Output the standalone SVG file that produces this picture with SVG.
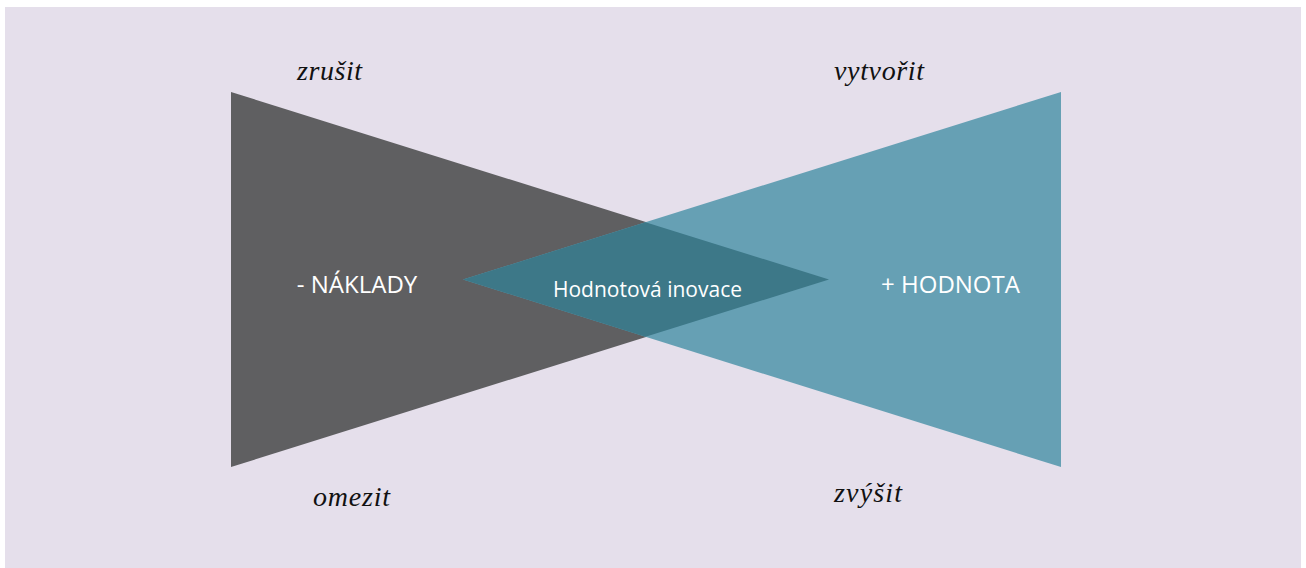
<svg xmlns="http://www.w3.org/2000/svg" width="1306" height="568" viewBox="0 0 1306 568">
  <style>
    .verb { font-family: "Liberation Serif", serif; font-style: italic; font-size: 28px; fill: #111111; }
    .side { font-family: "Open Sans", "Liberation Sans", sans-serif; font-size: 24px; fill: #ffffff; text-anchor: middle; }
    .mid { font-family: "Open Sans", "Liberation Sans", sans-serif; font-size: 21px; fill: #ffffff; text-anchor: middle; }
  </style>
  <rect x="0" y="0" width="1306" height="568" fill="#ffffff"/>
  <rect x="5" y="7" width="1296" height="561" fill="#e5dfeb"/>

  <g id="costs">
    <polygon points="231,92 829,279.5 231,467" fill="#5f5f61"/>
    <text class="side" x="357" y="293">- NÁKLADY</text>
  </g>

  <g id="value">
    <polygon points="1061,92 463,279.5 1061,467" fill="#66a0b4"/>
    <text class="side" x="950.5" y="293">+ HODNOTA</text>
  </g>

  <g id="innovation">
    <polygon points="463,279.5 645.5,222.3 829,279.5 645.5,336.7" fill="#3d7888"/>
    <text class="mid" x="647.5" y="297">Hodnotová inovace</text>
  </g>

  <g id="labels">
    <text class="verb" x="297" y="80" textLength="65" lengthAdjust="spacing">zrušit</text>
    <text class="verb" x="834" y="80" textLength="90" lengthAdjust="spacing">vytvořit</text>
    <text class="verb" x="313" y="506" textLength="77" lengthAdjust="spacing">omezit</text>
    <text class="verb" x="834" y="502" textLength="68" lengthAdjust="spacing">zvýšit</text>
  </g>

  <g id="connectors"/>
</svg>
